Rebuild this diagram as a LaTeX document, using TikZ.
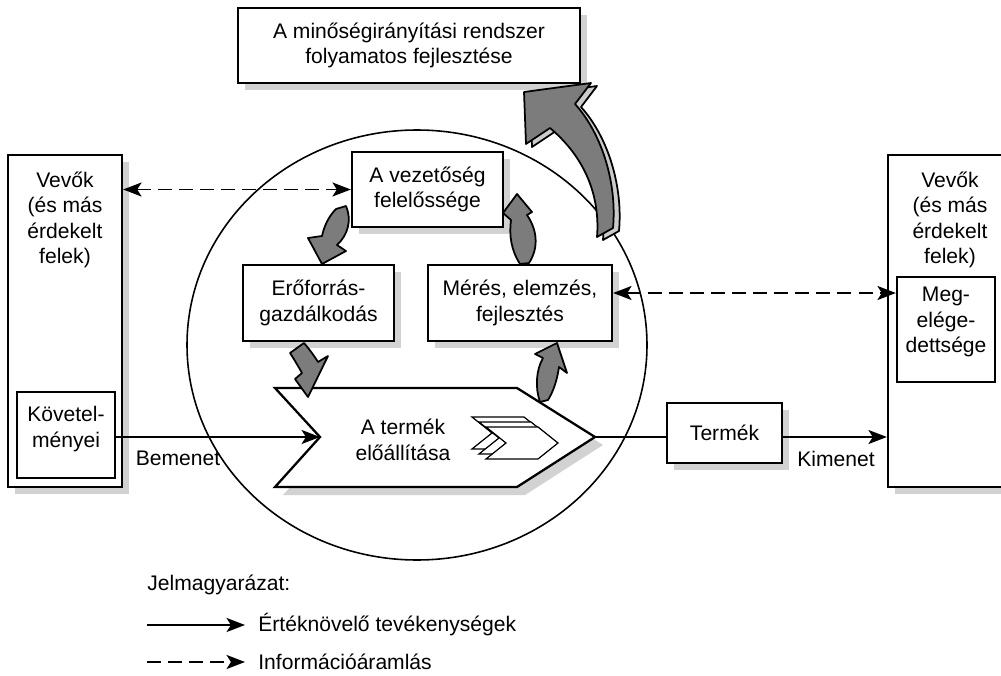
\documentclass[tikz,border=0pt]{standalone}
\usepackage{fontspec}
\setmainfont{Liberation Sans}
\usetikzlibrary{arrows.meta,shadows,calc}

\definecolor{arrowgray}{HTML}{7C7C7C}
\definecolor{sidegray}{HTML}{CBCBCB}
\definecolor{shadegray}{HTML}{D2D2D2}

\tikzset{
  chevron/.pic={
    \draw[line width=0.7pt, fill=white, line join=miter]
      (0,0) -- (52,0) -- (72,16) -- (52,32) -- (0,32) -- (20,16) -- cycle;
  }
}

\begin{document}
\begin{tikzpicture}[x=0.02cm,y=-0.02cm,
  font=\fontsize{12}{14.5}\selectfont,
  sz/.style 2 args={minimum width=#1*0.02cm, minimum height=#2*0.02cm},
  box/.style={draw, line width=1.3pt, fill=white, inner sep=0pt, align=center},
  shbox/.style={box, general shadow={fill=shadegray, shadow xshift=3.9pt, shadow yshift=-3.9pt}},
  txt/.style={align=center, inner sep=0pt},
  legtxt/.style={anchor=west, inner sep=0pt},
  flow/.style={line width=1pt, -{Stealth[length=10.5pt,width=8pt,inset=2.5pt]}},
  info/.style={line width=1pt, dash pattern=on 8pt off 4pt,
    {Stealth[length=10.5pt,width=8pt,inset=2.5pt]}-{Stealth[length=10.5pt,width=8pt,inset=2.5pt]}},
  infolegend/.style={line width=1pt, dash pattern=on 8pt off 4pt,
    -{Stealth[length=10.5pt,width=8pt,inset=2.5pt]}},
  blockarrow/.style={fill=arrowgray, draw=black, line width=1pt, line join=round},
  sidearrow/.style={fill=sidegray, draw=black, line width=1pt, line join=round},
]
\useasboundingbox (0,0) rectangle (1001,676);
\clip (0,0) rectangle (1001,676);

% process circle
\draw[line width=0.9pt] (417,345) ellipse [x radius=230, y radius=215];

% boxes
\node[shbox, sz={342}{75}] (top) at (409,45.5) {A minőségirányítási rendszer\\folyamatos fejlesztése};

\node[shbox, sz={114}{332}] (vevL) at (65,321) {};
\node[txt] (vevLt) at (65,220) {Vevők\\(és más\\érdekelt\\felek)};
\node[box, sz={98}{86}] (kov) at (66,435) {};
\node[txt] (kovt) at (66,429) {Követel-\\ményei};

\node[shbox, sz={122}{332}] (vevR) at (949,321) {};
\node[txt] (vevRt) at (950,220) {Vevők\\(és más\\érdekelt\\felek)};
\node[box, sz={98}{105}] (meg) at (946,329.5) {};
\node[txt] (megt) at (946,322) {Meg-\\elége-\\dettsége};

\node[shbox, sz={151}{75}] (vez) at (427.5,189.5) {A vezetőség\\felelőssége};
\node[shbox, sz={151}{76}] (ero) at (318.5,303) {Erőforrás-\\gazdálkodás};
\node[shbox, sz={184}{76}] (mer) at (520,303) {Mérés, elemzés,\\fejlesztés};
\node[shbox, sz={115}{60}] (term) at (724.5,433) {Termék};

% product realisation arrow
\fill[shadegray] (283,396) -- (525,396) -- (603,445) -- (525,495) -- (283,495) -- (328,445) -- cycle;
\draw[line width=1.3pt, fill=white, line join=miter]
  (275,388) -- (517,388) -- (595,437) coordinate (ptip) -- (517,487) -- (275,487)
  -- (320,437) coordinate (pnotch) -- cycle;
\node[txt] (prodt) at (403,440) {A termék\\előállítása};
\pic at (472,417) {chevron};
\pic at (479,422) {chevron};
\pic at (486,427) {chevron};

% value-adding flow
\draw[flow] (kov.east |- pnotch) -- (pnotch);
\draw[line width=1pt] (ptip) -- (term.west |- ptip);
\draw[flow] (term.east |- ptip) -- (vevR.west |- ptip);
\node[txt] (bem) at (178,458) {Bemenet};
\node[txt] (kim) at (836,459) {Kimenet};

% information flow
\draw[info] (vevL.east |- vez.west) -- (vez.west);
\path ($(mer.east)+(0,-10)$) coordinate (i2);
\draw[info] (i2) -- (meg.west |- i2);

% cycle arrows
\draw[blockarrow] (336,209) .. controls (328,217) and (324,227) .. (322,236)
  -- (308,238) -- (322,264) -- (346,251) -- (337,245)
  .. controls (348,235) and (352,220) .. (346,206) -- cycle;
\draw[blockarrow] (290,353) -- (304,343) .. controls (310,350) and (315,357) .. (318,362)
  -- (328,356) -- (308,397) -- (295,379) -- (302,373)
  .. controls (298,366) and (294,359) .. (290,353) -- cycle;
\draw[blockarrow] (540,402) .. controls (535,388) and (536,370) .. (543,358)
  -- (535,354) -- (557,343) -- (567,373) -- (559,367)
  .. controls (557,381) and (553,392) .. (548,400) -- cycle;
\draw[blockarrow] (520,264) .. controls (511,250) and (509,235) .. (511,220)
  -- (503,213) -- (517,194) -- (532,212) -- (527,215)
  .. controls (536,228) and (540,246) .. (529,263) -- cycle;

% improvement arrow
\draw[sidearrow, shift={(6,3)}] (524,92) -- (591,83) -- (575,104)
  .. controls (603,135) and (617,185) .. (613,228) -- (597,237)
  .. controls (600,200) and (588,160) .. (550,128) -- (526,144) -- cycle;
\draw[blockarrow] (524,92) -- (591,83) -- (575,104)
  .. controls (603,135) and (617,185) .. (613,228) -- (597,237)
  .. controls (600,200) and (588,160) .. (550,128) -- (526,144) -- cycle;

% legend
\node[legtxt] (legt) at (147,585) {Jelmagyarázat:};
\coordinate (l1a) at (147,625);
\coordinate (l1b) at (245,625);
\draw[flow] (l1a) -- (l1b);
\node[legtxt] (l1t) at (258,625) {Értéknövelő tevékenységek};
\coordinate (l2a) at (147,662);
\coordinate (l2b) at (245,662);
\draw[infolegend] (l2a) -- (l2b);
\node[legtxt] (l2t) at (258,662) {Információáramlás};
\end{tikzpicture}
\end{document}
